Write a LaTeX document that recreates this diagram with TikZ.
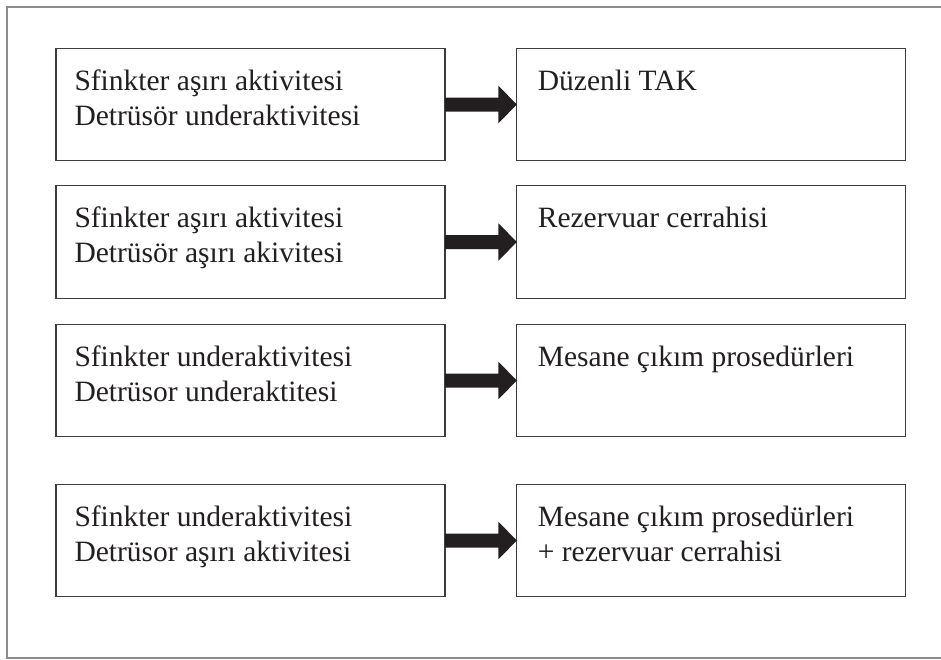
\documentclass[tikz,border=0pt]{standalone}
\usepackage{fontspec}
\setmainfont{Liberation Serif}
\usetikzlibrary{calc}
\definecolor{ink}{HTML}{231F20}
\definecolor{boxline}{HTML}{3C3C3C}
\definecolor{frameline}{HTML}{8C8C8C}
\tikzset{
  box/.style={draw=boxline, line width=1.1pt, rectangle, minimum width=389pt, minimum height=112.4pt, inner sep=0pt, outer sep=0pt},
  txt/.style={anchor=base west, inner sep=0pt, outer sep=0pt, text=ink, font=\fontsize{29.5}{35}\selectfont},
}
\newcommand\blockarrow[2]{%
  \fill[ink] ($(#1.east)+(0,-7)$) -- ($(#2.west)+(-18.4,-7)$) -- ($(#2.west)+(-18.4,-18.7)$) -- (#2.west) --
    ($(#2.west)+(-18.4,18.7)$) -- ($(#2.west)+(-18.4,7)$) -- ($(#1.east)+(0,7)$) -- cycle;}
\begin{document}
\begin{tikzpicture}[x=1pt,y=-1pt]
\useasboundingbox (0,0) rectangle (941,659);
\fill[white] (0,0) rectangle (941,659);
\draw[frameline, line width=1.3pt] (945,7) -- (7,7) -- (7,658) -- (945,658);

\node[box] (l1) at (250.5,104.5) {};
\node[box] (r1) at (711.35,104.5) {};
\node[box] (l2) at (250.5,242) {};
\node[box] (r2) at (711.35,242) {};
\node[box] (l3) at (250.5,380.5) {};
\node[box] (r3) at (711.35,380.5) {};
\node[box] (l4) at (250.5,540.5) {};
\node[box] (r4) at (711.35,540.5) {};

\node[txt] (l1a) at ($(l1.north west)+(18.5,42)$) {Sfinkter aşırı aktivitesi};
\node[txt] (l1b) at ($(l1.north west)+(18.5,77)$) {Detrüsör underaktivitesi};
\node[txt] (r1a) at ($(r1.north west)+(21,42)$) {Düzenli TAK};

\node[txt] (l2a) at ($(l2.north west)+(18.5,42)$) {Sfinkter aşırı aktivitesi};
\node[txt] (l2b) at ($(l2.north west)+(18.5,77)$) {Detrüsör aşırı akivitesi};
\node[txt] (r2a) at ($(r2.north west)+(21,42)$) {Rezervuar cerrahisi};

\node[txt] (l3a) at ($(l3.north west)+(18.5,42)$) {Sfinkter underaktivitesi};
\node[txt] (l3b) at ($(l3.north west)+(18.5,77)$) {Detrüsor underaktitesi};
\node[txt] (r3a) at ($(r3.north west)+(21,42)$) {Mesane çıkım prosedürleri};

\node[txt] (l4a) at ($(l4.north west)+(18.5,42)$) {Sfinkter underaktivitesi};
\node[txt] (l4b) at ($(l4.north west)+(18.5,77)$) {Detrüsor aşırı aktivitesi};
\node[txt] (r4a) at ($(r4.north west)+(21,42)$) {Mesane çıkım prosedürleri};
\node[txt] (r4b) at ($(r4.north west)+(21,77)$) {+ rezervuar cerrahisi};

\blockarrow{l1}{r1}
\blockarrow{l2}{r2}
\blockarrow{l3}{r3}
\blockarrow{l4}{r4}
\end{tikzpicture}
\end{document}
